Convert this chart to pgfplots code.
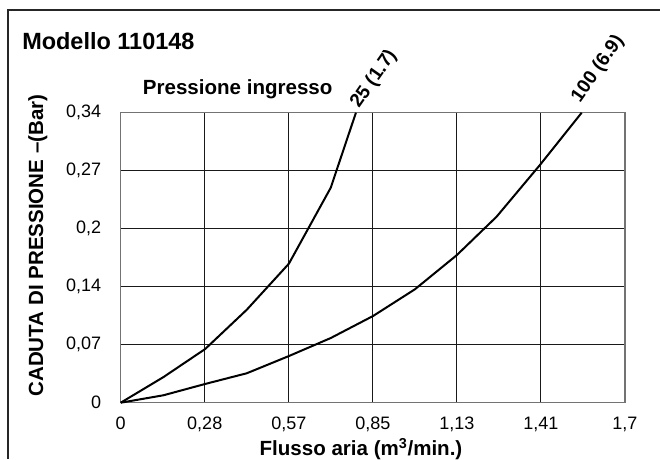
\documentclass[border=0pt]{standalone}
\usepackage{fontspec}
\setmainfont{Liberation Sans}
\usepackage{pgfplots}
\pgfplotsset{compat=1.18}
\begin{document}
\begin{tikzpicture}
\begin{scope}[x=0.75pt,y=0.75pt]
\path[use as bounding box] (0,0) rectangle (660,459);
\draw[line width=1.4pt, black!85] (8,0) -- (8,449) -- (660,449);
\end{scope}
\begin{axis}[
  at={(90.525pt,42.225pt)}, anchor=south west,
  scale only axis, width=378.2pt, height=217.5pt,
  xmin=0, xmax=1.7, ymin=0, ymax=0.34,
  xtick={0,0.283333,0.566667,0.85,1.133333,1.416667,1.7},
  xticklabels={0,{0,28},{0,57},{0,85},{1,13},{1,41},{1,7}},
  ytick={0,0.068,0.136,0.204,0.272,0.34},
  yticklabels={0,{0,07},{0,14},{0,2},{0,27},{0,34}},
  grid=major,
  major grid style={black!90, line width=0.8pt},
  axis line style={black!55, line width=0.9pt},
  tick style={draw=none},
  ticklabel style={font=\fontsize{13.5}{15}\selectfont, inner sep=0pt},
  xticklabel style={anchor=north, yshift=-10.5pt},
  yticklabel style={anchor=east, xshift=-14.5pt},
  clip=false,
]
\addplot[black, line width=1.5pt, line join=round] coordinates {
  (0,0) (0.144,0.030) (0.285,0.063) (0.425,0.109) (0.567,0.163) (0.708,0.252) (0.793,0.34)
};
\addplot[black, line width=1.5pt, line join=round] coordinates {
  (0,0) (0.144,0.0087) (0.285,0.022) (0.425,0.0345) (0.567,0.0547) (0.708,0.0758)
  (0.851,0.1017) (0.992,0.133) (1.133,0.173) (1.267,0.218) (1.414,0.279) (1.554,0.34)
};
\end{axis}
\begin{scope}[x=0.75pt,y=0.75pt]
\node[anchor=base west, inner sep=0pt, font=\bfseries\fontsize{17.6}{20}\selectfont] at (22,409.7) {Modello 110148};
\node[anchor=base west, inner sep=0pt, font=\bfseries\fontsize{15.4}{18}\selectfont] at (142.7,364) {Pressione ingresso};
\node[rotate=90, anchor=base, inner sep=0pt, font=\bfseries\fontsize{15.4}{18}\selectfont] at (43,213.5) {CADUTA DI PRESSIONE –(Bar)};
\node[anchor=base, inner sep=0pt, font=\bfseries\fontsize{15.4}{18}\selectfont] at (361,4) {Flusso aria (m\textsuperscript{3}/min.)};
\node[rotate=55, inner sep=0pt, font=\bfseries\fontsize{14.3}{16}\selectfont] at (374,380) {25 (1.7)};
\node[rotate=55, inner sep=0pt, font=\bfseries\fontsize{14.3}{16}\selectfont] at (598,390) {100 (6.9)};
\end{scope}
\end{tikzpicture}
\end{document}
